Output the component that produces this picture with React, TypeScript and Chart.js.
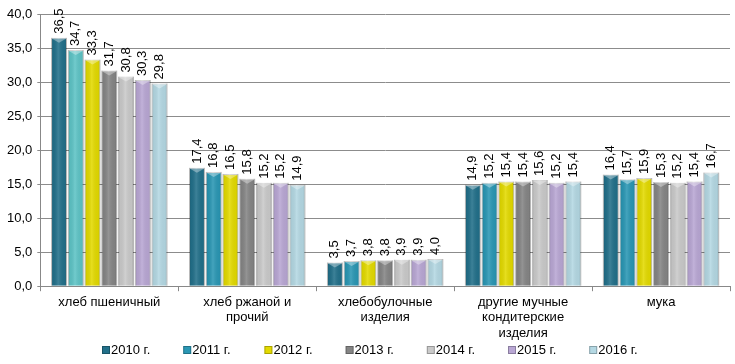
import React, { useEffect, useRef } from "react";
import { Chart, registerables } from "chart.js";

Chart.register(...registerables);

const categories: (string | string[])[] = [
  "хлеб пшеничный",
  ["хлеб ржаной и", "прочий"],
  ["хлебобулочные", "изделия"],
  ["другие мучные", "кондитерские", "изделия"],
  "мука",
];

const seriesNames = ["2010 г.", "2011 г.", "2012 г.", "2013 г.", "2014 г.", "2015 г.", "2016 г."];

const v2010 = [36.5, 17.4, 3.5, 14.9, 16.4];
const v2011 = [34.7, 16.8, 3.7, 15.2, 15.7];
const v2012 = [33.3, 16.5, 3.8, 15.4, 15.9];
const v2013 = [31.7, 15.8, 3.8, 15.4, 15.3];
const v2014 = [30.8, 15.2, 3.9, 15.6, 15.2];
const v2015 = [30.3, 15.2, 3.9, 15.2, 15.4];
const v2016 = [29.8, 14.9, 4.0, 15.4, 16.7];

const seriesValues = [v2010, v2011, v2012, v2013, v2014, v2015, v2016];

const colors: (string | string[])[] = [
  "#22708a",
  ["#5ec4c6", "#2a97b4", "#2a97b4", "#2a97b4", "#2a97b4"],
  "#e3da00",
  "#858585",
  "#cacaca",
  "#b9a7d4",
  "#b4d8e3",
];

const FONT = "'Liberation Sans', Arial, sans-serif";
const fmt = (v: number) => v.toFixed(1).replace(".", ",");

const labelPlugin = {
  id: "barLabels",
  afterDatasetsDraw(chart: any) {
    const ctx = chart.ctx;
    ctx.save();
    // shading overlay for a slight 3D look
    chart.data.datasets.forEach((ds: any, i: number) => {
      const meta = chart.getDatasetMeta(i);
      meta.data.forEach((el: any) => {
        const w = el.width;
        const left = el.x - w / 2;
        const top = el.y;
        const h = el.base - el.y;
        const g = ctx.createLinearGradient(left, 0, left + w, 0);
        g.addColorStop(0, "rgba(0,0,0,0.18)");
        g.addColorStop(0.15, "rgba(0,0,0,0.05)");
        g.addColorStop(0.45, "rgba(255,255,255,0.12)");
        g.addColorStop(0.85, "rgba(0,0,0,0.04)");
        g.addColorStop(1, "rgba(0,0,0,0.2)");
        ctx.fillStyle = g;
        ctx.fillRect(left, top, w, h);
        // top bevel
        ctx.fillStyle = "rgba(255,255,255,0.35)";
        ctx.beginPath();
        ctx.moveTo(left + 1, top + 1);
        ctx.lineTo(left + w - 1, top + 1);
        ctx.lineTo(left + w / 2, top + 5);
        ctx.closePath();
        ctx.fill();
      });
    });
    ctx.font = "13px " + FONT;
    ctx.fillStyle = "#000";
    ctx.textAlign = "left";
    ctx.textBaseline = "middle";
    chart.data.datasets.forEach((ds: any, i: number) => {
      const meta = chart.getDatasetMeta(i);
      meta.data.forEach((el: any, j: number) => {
        const v = ds.data[j];
        ctx.save();
        ctx.translate(el.x, el.y - 4);
        ctx.rotate(-Math.PI / 2);
        ctx.fillText(fmt(v), 0, 0);
        ctx.restore();
      });
    });
    ctx.restore();
  },
};

const legendPlugin = {
  id: "customLegend",
  afterDraw(chart: any) {
    const ctx = chart.ctx;
    ctx.save();
    ctx.font = "13px " + FONT;
    ctx.textAlign = "left";
    ctx.textBaseline = "middle";
    const y = 350;
    chart.data.datasets.forEach((ds: any, i: number) => {
      const x = 102 + i * 81.2;
      const c = Array.isArray(ds.backgroundColor) ? ds.backgroundColor[1] : ds.backgroundColor;
      ctx.fillStyle = c;
      ctx.fillRect(x, y - 4, 8, 8);
      ctx.strokeStyle = "rgba(0,0,0,0.25)";
      ctx.lineWidth = 1;
      ctx.strokeRect(x + 0.5, y - 3.5, 7, 7);
      ctx.fillStyle = "#000";
      ctx.fillText(ds.label, x + 9, y);
    });
    ctx.restore();
  },
};

export default function App() {
  const ref = useRef<HTMLCanvasElement>(null);
  useEffect(() => {
    if (!ref.current) return;
    const chart = new Chart(ref.current, {
      type: "bar",
      data: {
        labels: categories,
        datasets: seriesNames.map((name, i) => ({
          label: name,
          data: seriesValues[i],
          backgroundColor: colors[i] as any,
          borderColor: "rgba(0,0,0,0.15)",
          borderWidth: 1,
          barPercentage: 0.95,
          categoryPercentage: 0.85,
        })),
      },
      options: {
        animation: false,
        responsive: false,
        layout: { padding: { top: 14, right: 5, left: 2, bottom: 20 } },
        plugins: {
          legend: { display: false },
          tooltip: { enabled: false },
        },
        scales: {
          x: {
            grid: {
              offset: true,
              drawOnChartArea: false,
              drawTicks: true,
              tickLength: 5,
              color: "#888",
            },
            border: { color: "#888" },
            ticks: {
              color: "#000",
              font: { family: FONT, size: 13, lineHeight: 1.2 },
              maxRotation: 0,
              autoSkip: false,
              padding: 3,
            },
          },
          y: {
            min: 0,
            max: 40,
            ticks: {
              stepSize: 5,
              color: "#000",
              font: { family: FONT, size: 13 },
              callback: (v: any) => fmt(Number(v)),
              padding: 5,
            },
            grid: { color: "#8c8c8c", tickLength: 3 },
            border: { color: "#888" },
          },
        },
      },
      plugins: [labelPlugin, legendPlugin],
    });
    return () => chart.destroy();
  }, []);
  return (
    <div style={{ position: "fixed", left: 0, top: 0, width: 735, height: 364, background: "#fff" }}>
      <canvas ref={ref} width={735} height={364} style={{ width: 735, height: 364 }} />
    </div>
  );
}
